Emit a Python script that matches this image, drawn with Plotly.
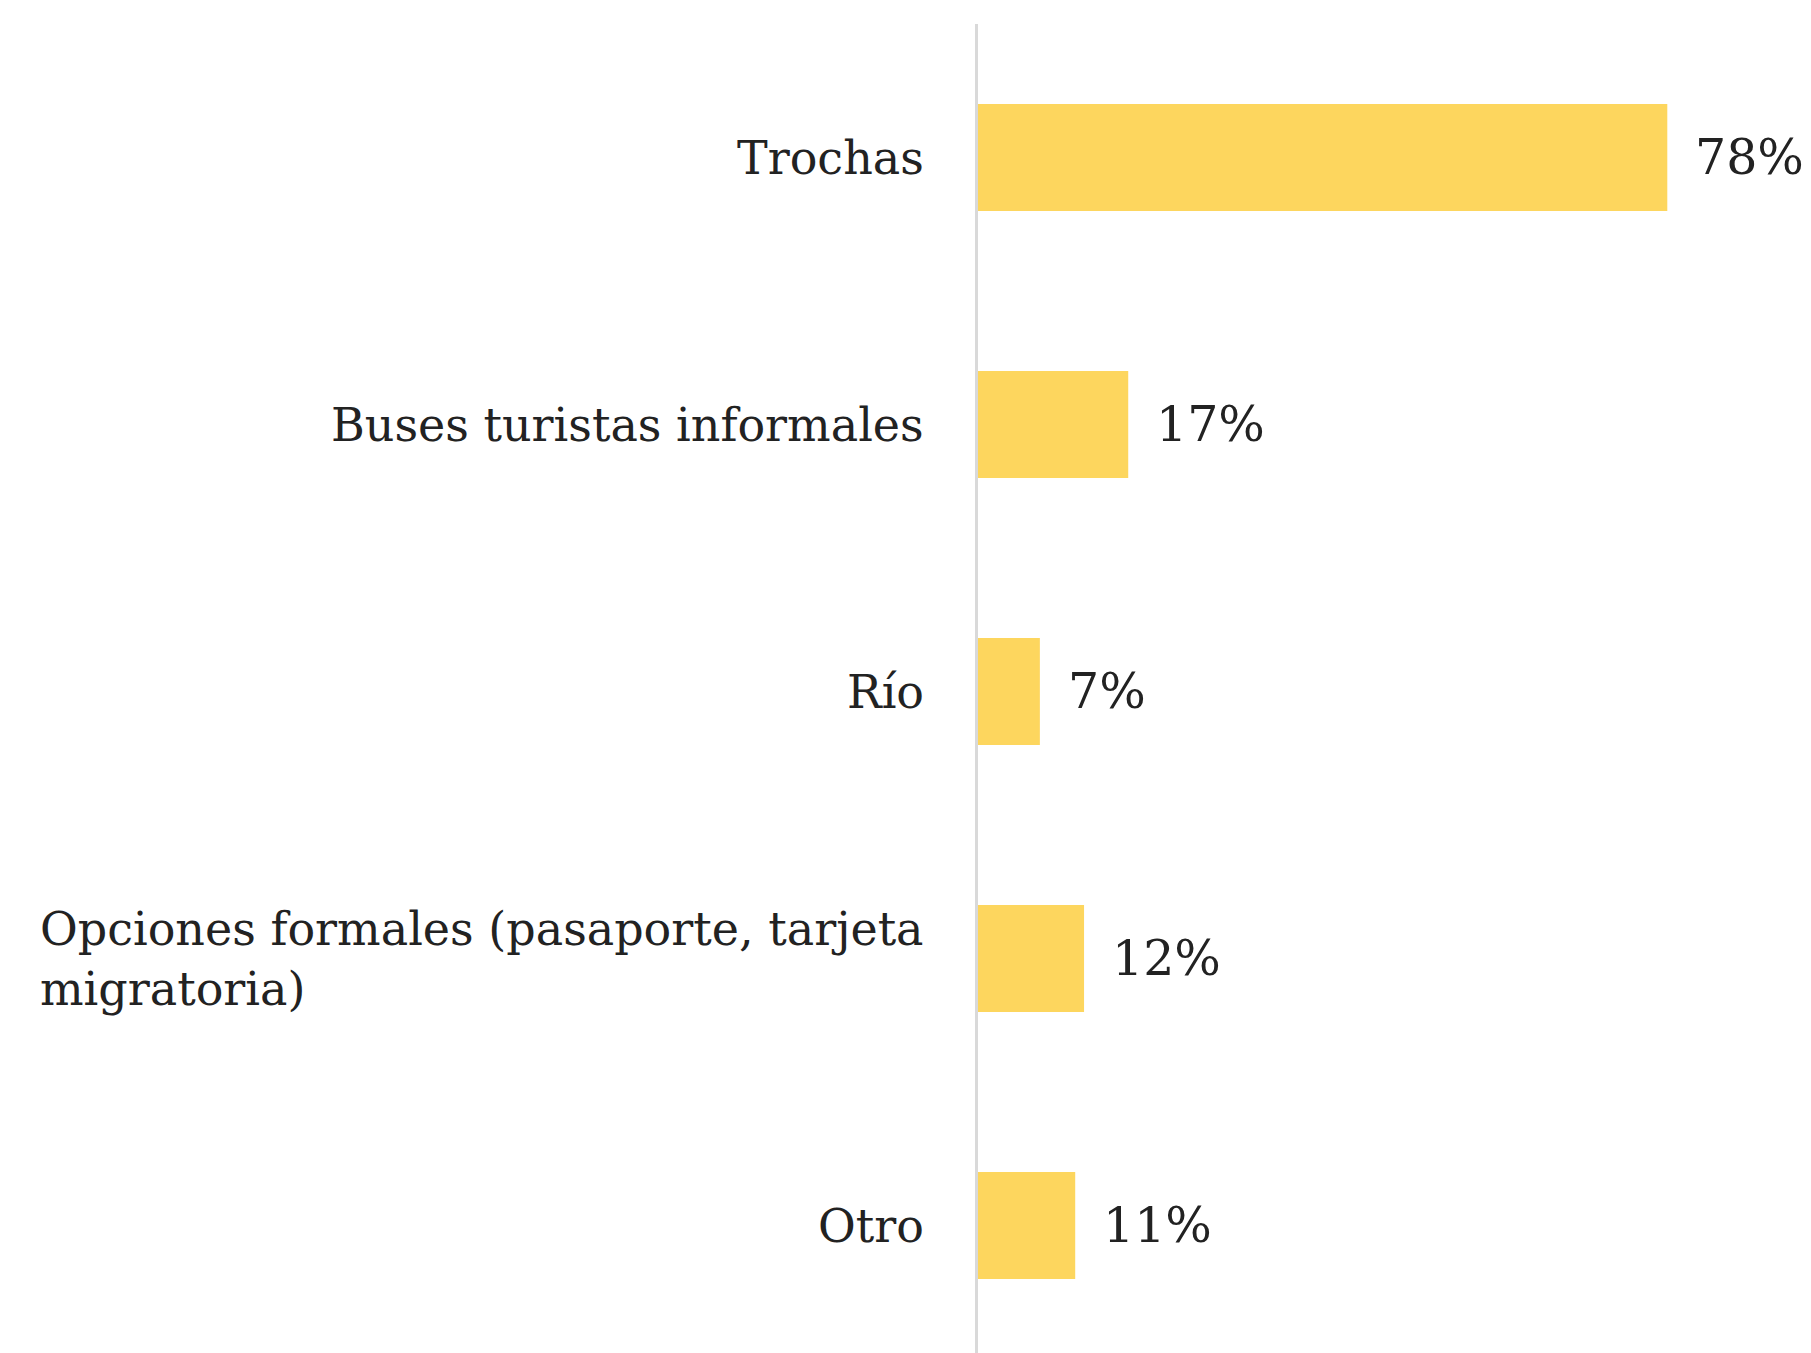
import plotly.graph_objects as go

categories = [
    "Trochas",
    "Buses turistas informales",
    "Río",
    "Opciones formales (pasaporte, tarjeta<br>migratoria)",
    "Otro",
]
values = [78, 17, 7, 12, 11]

FONT = "DejaVu Serif"
BAR_COLOR = "#FDD65E"
TEXT_COLOR = "#222222"

fig = go.Figure()
fig.add_trace(
    go.Bar(
        x=values,
        y=categories,
        orientation="h",
        marker=dict(color=BAR_COLOR, line=dict(width=0)),
        hoverinfo="x+y",
    )
)

# category labels as annotations so the two-line one stays left aligned
for cat in categories:
    fig.add_annotation(
        x=0, y=cat, xref="x", yref="y",
        text=cat, showarrow=False,
        xanchor="right", yanchor="middle", align="left",
        xshift=-52,
        font=dict(family=FONT, size=46, color=TEXT_COLOR),
    )

# value labels right of the bars
for cat, v in zip(categories, values):
    fig.add_annotation(
        x=v, y=cat, xref="x", yref="y",
        text=f"{v}%", showarrow=False,
        xanchor="left", yanchor="middle",
        xshift=26,
        font=dict(family=FONT, size=49, color=TEXT_COLOR),
    )

fig.update_layout(
    width=1811,
    height=1353,
    margin=dict(l=970, r=5, t=16, b=2),
    plot_bgcolor="white",
    paper_bgcolor="white",
    bargap=0.6,
    showlegend=False,
)
fig.update_xaxes(range=[0, 94.6], visible=False)
fig.update_yaxes(
    categoryorder="array",
    categoryarray=categories,
    autorange="reversed",
    showticklabels=False,
    showgrid=False,
    zeroline=False,
    showline=True,
    linecolor="#D9D9D9",
    linewidth=3,
    ticks="",
)

fig.write_html("out.html")
